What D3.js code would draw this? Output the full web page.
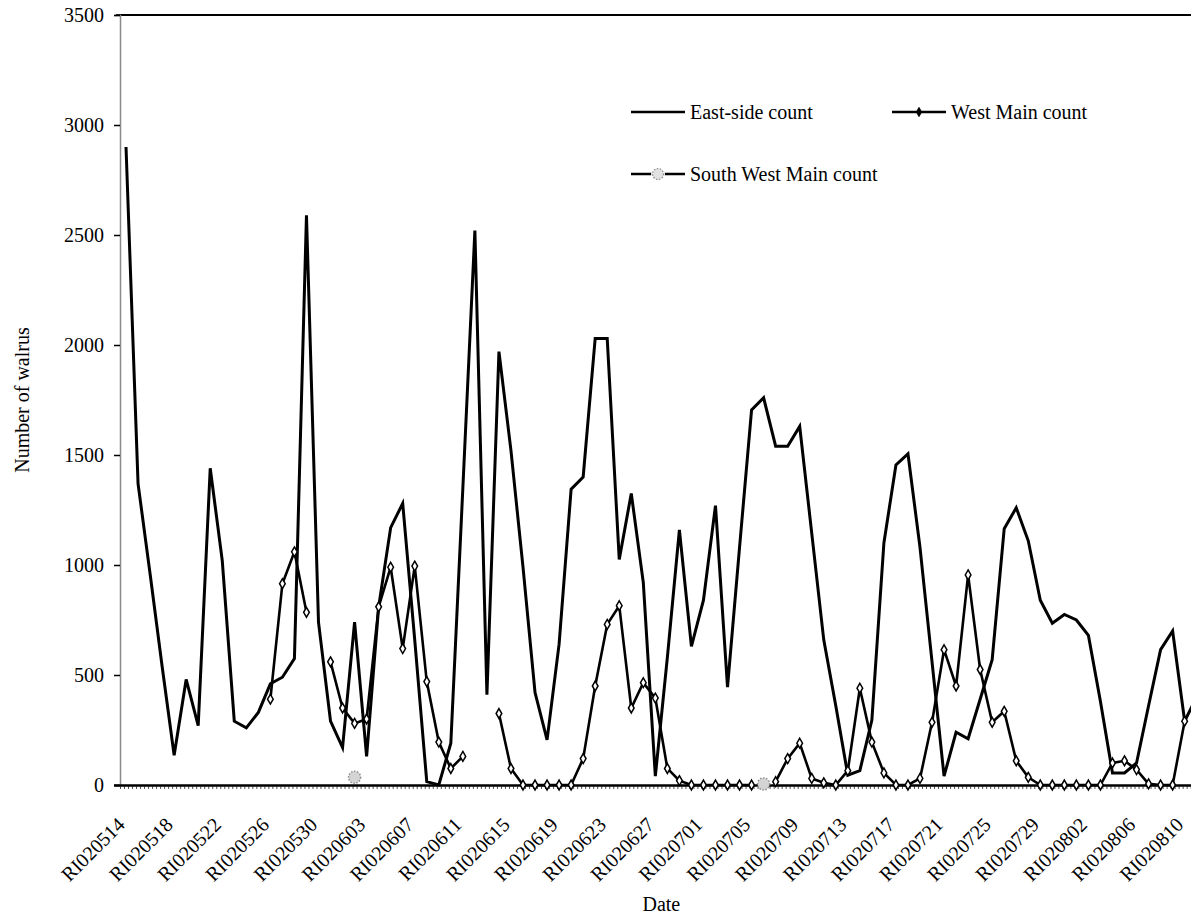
<!DOCTYPE html>
<html>
<head>
<meta charset="utf-8">
<script src="https://cdn.jsdelivr.net/npm/d3@7"></script>
<style>
  html, body { margin: 0; padding: 0; background: #fff; }
  svg { display: block; }
  text { font-family: "Liberation Serif", "Times New Roman", serif; fill: #000; }
</style>
</head>
<body>
<svg id="chart" width="1191" height="921"></svg>
<script>
const categories = [
  "RI020514","RI020515","RI020516","RI020517","RI020518","RI020519","RI020520","RI020521","RI020522","RI020523",
  "RI020524","RI020525","RI020526","RI020527","RI020528","RI020529","RI020530","RI020531",
  "RI020601","RI020602","RI020603","RI020604","RI020605","RI020606","RI020607","RI020608","RI020609","RI020610",
  "RI020611","RI020612","RI020613","RI020614","RI020615","RI020616","RI020617","RI020618","RI020619","RI020620",
  "RI020621","RI020622","RI020623","RI020624","RI020625","RI020626","RI020627","RI020628","RI020629","RI020630",
  "RI020701","RI020702","RI020703","RI020704","RI020705","RI020706","RI020707","RI020708","RI020709","RI020710",
  "RI020711","RI020712","RI020713","RI020714","RI020715","RI020716","RI020717","RI020718","RI020719","RI020720",
  "RI020721","RI020722","RI020723","RI020724","RI020725","RI020726","RI020727","RI020728","RI020729","RI020730",
  "RI020731","RI020801","RI020802","RI020803","RI020804","RI020805","RI020806","RI020807","RI020808","RI020809",
  "RI020810","RI020811"
];

const tickLabels = ["RI020514","RI020518","RI020522","RI020526","RI020530","RI020603","RI020607","RI020611",
  "RI020615","RI020619","RI020623","RI020627","RI020701","RI020705","RI020709","RI020713","RI020717",
  "RI020721","RI020725","RI020729","RI020802","RI020806","RI020810"];

const yTicks = [0, 500, 1000, 1500, 2000, 2500, 3000, 3500];

const eastSide = [
  2900, 1370, 960, 540, 135, 480, 270, 1440, 1020, 290,
  260, 330, 460, 490, 575, 2590, 740, 290,
  170, 740, 130, 810, 1170, 1280, 660, 15, 0, 190,
  1350, 2520, 410, 1970, 1520, 990, 420, 205, 640, 1345,
  1400, 2030, 2030, 1025, 1325, 920, 40, 580, 1160, 630,
  840, 1270, 445, 1080, 1705, 1760, 1540, 1540, 1630, 1145,
  660, 360, 45, 65, 295, 1100, 1455, 1505, 1080, 560,
  40, 240, 210, 390, 570, 1165, 1260, 1110, 840, 735,
  775, 750, 680, 380, 55, 55, 100, 360, 615, 700,
  290, 400
];

const westMain = [
  null, null, null, null, null, null, null, null, null, null,
  null, null, 390, 915, 1060, 785, null, 560,
  350, 280, 300, 810, 990, 620, 995, 470, 195, 75,
  130, null, null, 325, 75, 0, 0, 0, 0, 0,
  120, 450, 730, 815, 350, 465, 395, 75, 20, 0,
  0, 0, 0, 0, 0, null, 15, 120, 190, 30,
  10, 0, 65, 440, 195, 55, 0, 0, 30, 285,
  615, 450, 955, 525, 285, 335, 110, 35, 0, 0,
  0, 0, 0, 0, 100, 110, 70, 5, 0, 0,
  290, null
];

const southWestMain = [
  null, null, null, null, null, null, null, null, null, null,
  null, null, null, null, null, null, null, null,
  null, 35, null, null, null, null, null, null, null, null,
  null, null, null, null, null, null, null, null, null, null,
  null, null, null, null, null, null, null, null, null, null,
  null, null, null, null, null, 5, null, null, null, null,
  null, null, null, null, null, null, null, null, null, null,
  null, null, null, null, null, null, null, null, null, null,
  null, null, null, null, null, null, null, null, null, null,
  null, null
];

const FONT = "20px";
const svg = d3.select("#chart");
const mLeft = 120, mTop = 15, mBottom = 785;
const step = 12.03;
const mRight = mLeft + categories.length * step;

const x = d3.scaleBand().domain(categories).range([mLeft, mRight]).padding(0);
const cx = c => x(c) + x.bandwidth() / 2;
const y = d3.scaleLinear().domain([0, 3500]).range([mBottom, mTop]);

// plot area top border
svg.append("line")
  .attr("x1", mLeft - 4).attr("x2", 1191)
  .attr("y1", y(3500)).attr("y2", y(3500))
  .attr("stroke", "#000").attr("stroke-width", 2);

// Y axis
const yAxis = svg.append("g")
  .attr("transform", `translate(${mLeft},0)`)
  .call(d3.axisLeft(y).tickValues(yTicks).tickSize(6).tickPadding(10).tickFormat(d3.format("d")));
yAxis.attr("font-family", null).attr("font-size", null);
yAxis.select(".domain").attr("stroke", "#8a8a8a").attr("stroke-width", 1.5);
yAxis.selectAll(".tick line").attr("stroke", "#000").attr("stroke-width", 1.5);
yAxis.selectAll(".tick text")
  .style("font-family", "'Liberation Serif', serif").style("font-size", FONT).attr("fill", "#000");

// X axis minor ticks (three per category)
const xt = d3.scaleLinear().domain([0, categories.length]).range([mLeft, mRight]);
const minorAxis = svg.append("g")
  .attr("transform", `translate(0,${mBottom})`)
  .call(d3.axisBottom(xt).tickValues(d3.range(0, categories.length * 3).map(k => k / 3))
    .tickSize(4).tickFormat(""));
minorAxis.select(".domain").remove();
minorAxis.selectAll(".tick line").attr("stroke", "#555").attr("stroke-width", 1);

// X axis line + labels
const xAxis = svg.append("g")
  .attr("transform", `translate(0,${mBottom})`)
  .call(d3.axisBottom(x).tickValues(tickLabels).tickSize(0).tickPadding(0));
xAxis.attr("font-family", null).attr("font-size", null);
xAxis.select(".domain").attr("stroke", "#000").attr("stroke-width", 2.5)
  .attr("d", `M${mLeft - 6},0.5H1191`);
xAxis.selectAll(".tick text")
  .style("font-family", "'Liberation Serif', serif").style("font-size", FONT).attr("fill", "#000")
  .attr("text-anchor", "end")
  .attr("dy", null)
  .attr("y", 0)
  .attr("transform", "translate(0,41) rotate(-45)");

// axis titles
svg.append("text")
  .attr("transform", `translate(29,${(mTop + mBottom) / 2}) rotate(-90)`)
  .attr("text-anchor", "middle")
  .style("font-size", FONT)
  .text("Number of walrus");
svg.append("text")
  .attr("x", (mLeft + mRight) / 2).attr("y", 911)
  .attr("text-anchor", "middle")
  .style("font-size", FONT)
  .text("Date");

// lines
const mkLine = arr => d3.line()
  .defined((d, i) => arr[i] != null)
  .x((d, i) => cx(categories[i]))
  .y((d, i) => y(arr[i]));

const plot = svg.append("g");

plot.append("path")
  .datum(eastSide)
  .attr("d", mkLine(eastSide))
  .attr("fill", "none").attr("stroke", "#000").attr("stroke-width", 3)
  .attr("stroke-linejoin", "miter");

plot.append("path")
  .datum(westMain)
  .attr("d", mkLine(westMain))
  .attr("fill", "none").attr("stroke", "#000").attr("stroke-width", 2.6);

const diamond = d3.symbol().type(d3.symbolDiamond).size(28);

plot.selectAll(".wm")
  .data(westMain.map((v, i) => ({ v, c: categories[i] })).filter(d => d.v != null))
  .join("path")
  .attr("class", "wm")
  .attr("d", diamond)
  .attr("transform", d => `translate(${cx(d.c)},${y(d.v)})`)
  .attr("fill", "#fff").attr("stroke", "#000").attr("stroke-width", 1.5);

plot.append("path")
  .datum(southWestMain)
  .attr("d", mkLine(southWestMain))
  .attr("fill", "none").attr("stroke", "#000").attr("stroke-width", 2.5);

plot.selectAll(".sw")
  .data(southWestMain.map((v, i) => ({ v, c: categories[i] })).filter(d => d.v != null))
  .join("circle")
  .attr("class", "sw")
  .attr("cx", d => cx(d.c)).attr("cy", d => y(d.v))
  .attr("r", 6)
  .attr("fill", "#d4d4d4").attr("stroke", "#8c8c8c").attr("stroke-width", 1.5)
  .attr("stroke-dasharray", "1.5,1.5");

// legend
const legend = svg.append("g");
const legendItems = [
  { name: "East-side count", x: 631, y: 112, marker: null },
  { name: "West Main count", x: 892, y: 112, marker: "diamond" },
  { name: "South West Main count", x: 631, y: 174, marker: "circle" }
];
legendItems.forEach(it => {
  legend.append("line")
    .attr("x1", it.x).attr("x2", it.x + 54)
    .attr("y1", it.y).attr("y2", it.y)
    .attr("stroke", "#000").attr("stroke-width", 2.5);
  if (it.marker === "diamond") {
    legend.append("path").attr("d", d3.symbol().type(d3.symbolDiamond).size(24))
      .attr("transform", `translate(${it.x + 27},${it.y})`)
      .attr("fill", "#000").attr("stroke", "#000").attr("stroke-width", 1);
  } else if (it.marker === "circle") {
    legend.append("circle").attr("cx", it.x + 27).attr("cy", it.y).attr("r", 6)
      .attr("fill", "#fff").attr("stroke", "#fff").attr("stroke-width", 2);
    legend.append("circle").attr("cx", it.x + 27).attr("cy", it.y).attr("r", 5.5)
      .attr("fill", "#e2e2e2").attr("stroke", "#8c8c8c").attr("stroke-width", 1.2)
      .attr("stroke-dasharray", "1.5,1.5");
  }
  legend.append("text")
    .attr("x", it.x + 59).attr("y", it.y + 7)
    .style("font-size", FONT)
    .text(it.name);
});
</script>
</body>
</html>
